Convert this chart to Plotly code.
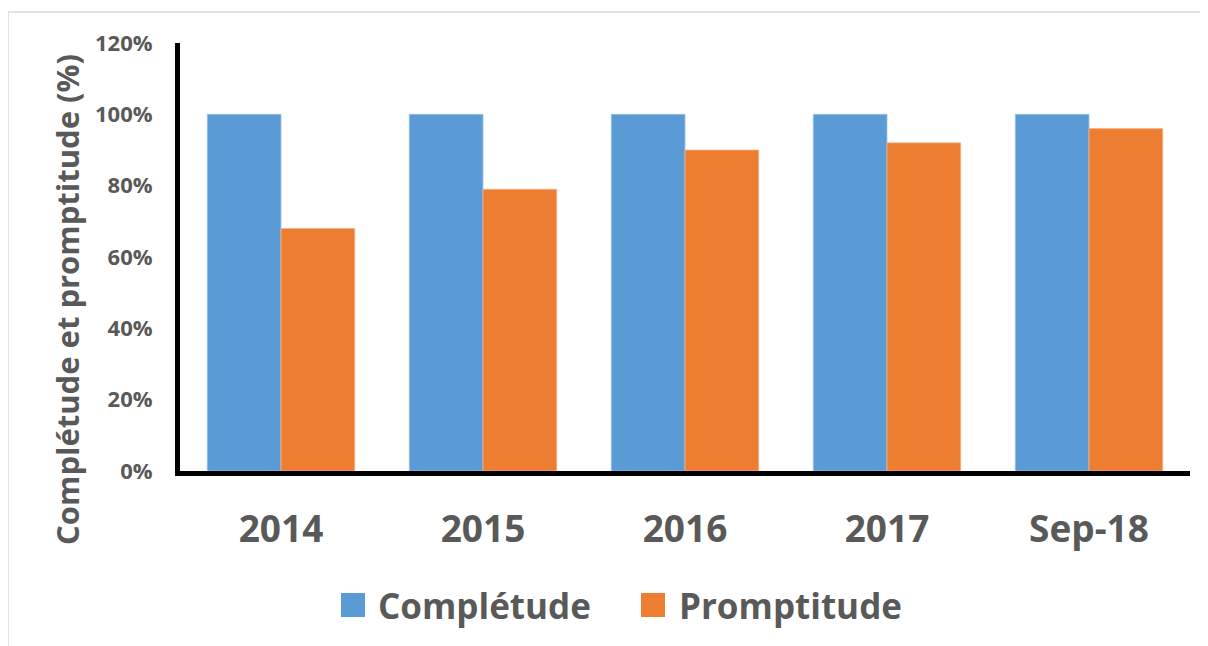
import plotly.graph_objects as go

categories = ["2014", "2015", "2016", "2017", "Sep-18"]
completude = [100, 100, 100, 100, 100]
promptitude = [68, 79, 90, 92, 96]
y_ticks = [0, 20, 40, 60, 80, 100, 120]
y_tick_labels = ["0%", "20%", "40%", "60%", "80%", "100%", "120%"]
y_title = "Complétude et promptitude (%)"
series_names = ["Complétude", "Promptitude"]
series_colors = ["#5B9BD5", "#ED7D31"]
edge_colors = ["#9cc3e8", "#f5b48a"]

FONT = "Open Sans"
GRAY = "#595959"

# page body has an 8px offset, so the figure is 1200x638 drawn from (8,8)
W, H = 1200, 638
L, T, R_EDGE, B_EDGE = 172, 35, 1182, 463
PW, PH = R_EDGE - L, B_EDGE - T


def px(x):
    return (x - L) / PW


def py(y):
    return (B_EDGE - y) / PH


fig = go.Figure()
for name, vals, col, edge in zip(series_names, [completude, promptitude], series_colors, edge_colors):
    fig.add_trace(go.Bar(name=name, x=categories, y=vals,
                         marker=dict(color=col, line=dict(color=edge, width=0.8))))

fig.update_layout(
    width=W, height=H,
    barmode="group", bargap=0.27, bargroupgap=0,
    paper_bgcolor="white", plot_bgcolor="white",
    margin=dict(l=L, r=W - R_EDGE, t=T, b=H - B_EDGE, pad=0),
    font=dict(family=FONT, color=GRAY),
    showlegend=False,
)
fig.update_yaxes(
    range=[0, 120], tickvals=y_ticks, ticktext=y_tick_labels,
    showgrid=False, zeroline=False,
    showline=True, linecolor="black", linewidth=5,
    ticks="outside", ticklen=18, tickcolor="rgba(0,0,0,0)",
    tickfont=dict(size=22, family=FONT, color=GRAY, weight="bold"),
)
fig.update_xaxes(
    showgrid=False, zeroline=False,
    showline=True, linecolor="black", linewidth=5,
    ticks="outside", ticklen=22, tickcolor="rgba(0,0,0,0)",
    tickfont=dict(size=37, family=FONT, color=GRAY, weight="bold"),
)
fig.add_annotation(text=y_title, textangle=-90, showarrow=False,
                   xref="paper", yref="paper",
                   x=px(59), y=py(292),
                   xanchor="center", yanchor="middle",
                   font=dict(size=31, family=FONT, color=GRAY, weight="bold"))

# legend (square swatches + labels)
legend_sq_left = [333, 633]
legend_txt_left = [368, 669]
for name, col, sx, tx in zip(series_names, series_colors, legend_sq_left, legend_txt_left):
    fig.add_shape(type="rect", xref="paper", yref="paper",
                  x0=px(sx), x1=px(sx + 24), y0=py(609), y1=py(585),
                  fillcolor=col, line=dict(width=0))
    fig.add_annotation(text=name, showarrow=False, xref="paper", yref="paper",
                       x=px(tx), y=py(597), xanchor="left", yanchor="middle",
                       font=dict(size=35, family=FONT, color=GRAY, weight="bold"))

# light chart-area border: only top and left edges are visible in the frame
border = dict(color="#d9d9d9", width=1.5)
fig.add_shape(type="line", xref="paper", yref="paper",
              x0=px(0), x1=px(W), y0=py(4), y1=py(4), line=border, layer="below")
fig.add_shape(type="line", xref="paper", yref="paper",
              x0=px(0), x1=px(0), y0=py(4), y1=py(H), line=border, layer="below")

fig.write_html("out.html")
